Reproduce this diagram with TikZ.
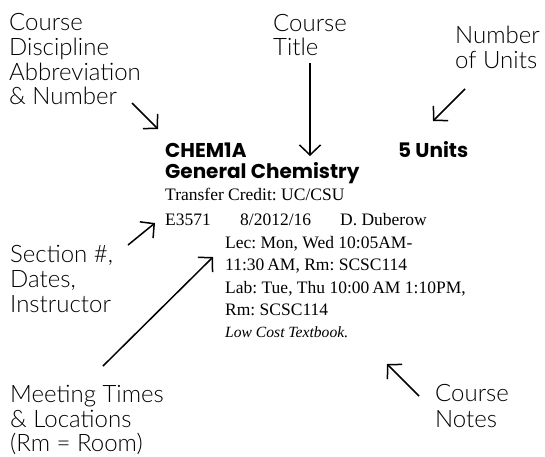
\documentclass[tikz,border=0pt]{standalone}
\usepackage{fontspec}
\usetikzlibrary{arrows.meta}
\setmainfont{Liberation Serif}
\newfontfamily\labfont{Lato Light}
\newfontfamily\headfont{Poppins}
\frenchspacing
\begin{document}
\begin{tikzpicture}[x=1pt,y=-1pt,
  lab/.style={anchor=base west,inner sep=0pt,font=\labfont\fontsize{24}{25}\selectfont},
  head/.style={anchor=base west,inner sep=0pt,font=\headfont\bfseries\fontsize{20}{22}\selectfont},
  body/.style={anchor=base west,inner sep=0pt,font=\frenchspacing\fontsize{17.5}{22}\selectfont},
  note/.style={anchor=base west,inner sep=0pt,font=\frenchspacing\itshape\fontsize{15.6}{20}\selectfont},
  pointer/.style={line width=1.5pt,-{Straight Barb[length=10pt,width=21pt,line width=1.5pt]}}]
\useasboundingbox (0,0) rectangle (545,456);
% annotation labels
\node[lab] (disc1) at (9,30) {Course};
\node[lab] (disc2) at (9,55) {Discipline};
\node[lab] (disc3) at (9,80) {Abbreviation};
\node[lab] (disc4) at (9,104) {\& Number};
\node[lab] (title1) at (273,31) {Course};
\node[lab] (title2) at (273,55) {Title};
\node[lab] (units1) at (455,43) {Number};
\node[lab] (units2) at (455,68) {of Units};
\node[lab] (sec1) at (10,262) {Section \#,};
\node[lab] (sec2) at (10,287) {Dates,};
\node[lab] (sec3) at (10,312) {Instructor};
\node[lab] (meet1) at (10,402) {Meeting Times};
\node[lab] (meet2) at (10,427) {\& Locations};
\node[lab] (meet3) at (10,451) {(Rm = Room)};
\node[lab] (notes1) at (435,401) {Course};
\node[lab] (notes2) at (435,427) {Notes};
% course entry
\node[head] (code) at (165,157) {CHEM1A};
\node[head] (units) at (398,157) {5 Units};
\node[head] (name) at (165,178) {General Chemistry};
\node[body] (transfer) at (165,200) {Transfer Credit: UC/CSU};
\node[body] (section) at (165,225) {E3571};
\node[body] (dates) at (240,225) {8/2012/16};
\node[body] (instr) at (340,225) {D. Duberow};
\node[body] (lec1) at (225,248) {Lec: Mon, Wed 10:05AM-};
\node[body] (lec2) at (225,270) {11:30\,AM, Rm: SCSC114};
\node[body] (lab1) at (225,293) {Lab: Tue, Thu 10:00\,AM 1:10PM,};
\node[body] (lab2) at (225,315) {Rm: SCSC114};
\node[note] (cnote) at (225,337) {Low Cost Textbook.};
% pointer coordinates
\coordinate (p1s) at (132,103); \coordinate (p1e) at (158,129);
\coordinate (p2s) at (310,63);  \coordinate (p2e) at (310,156);
\coordinate (p3s) at (465,89);  \coordinate (p3e) at (433,121);
\coordinate (p4s) at (128,245); \coordinate (p4e) at (155,223);
\coordinate (p5s) at (103,366); \coordinate (p5e) at (213,257);
\coordinate (p6s) at (419,396); \coordinate (p6e) at (387,364);
\draw[pointer] (p1s) -- (p1e);
\draw[pointer] (p2s) -- (p2e);
\draw[pointer] (p3s) -- (p3e);
\draw[pointer] (p4s) -- (p4e);
\draw[pointer] (p5s) -- (p5e);
\draw[pointer] (p6s) -- (p6e);
\end{tikzpicture}
\end{document}
